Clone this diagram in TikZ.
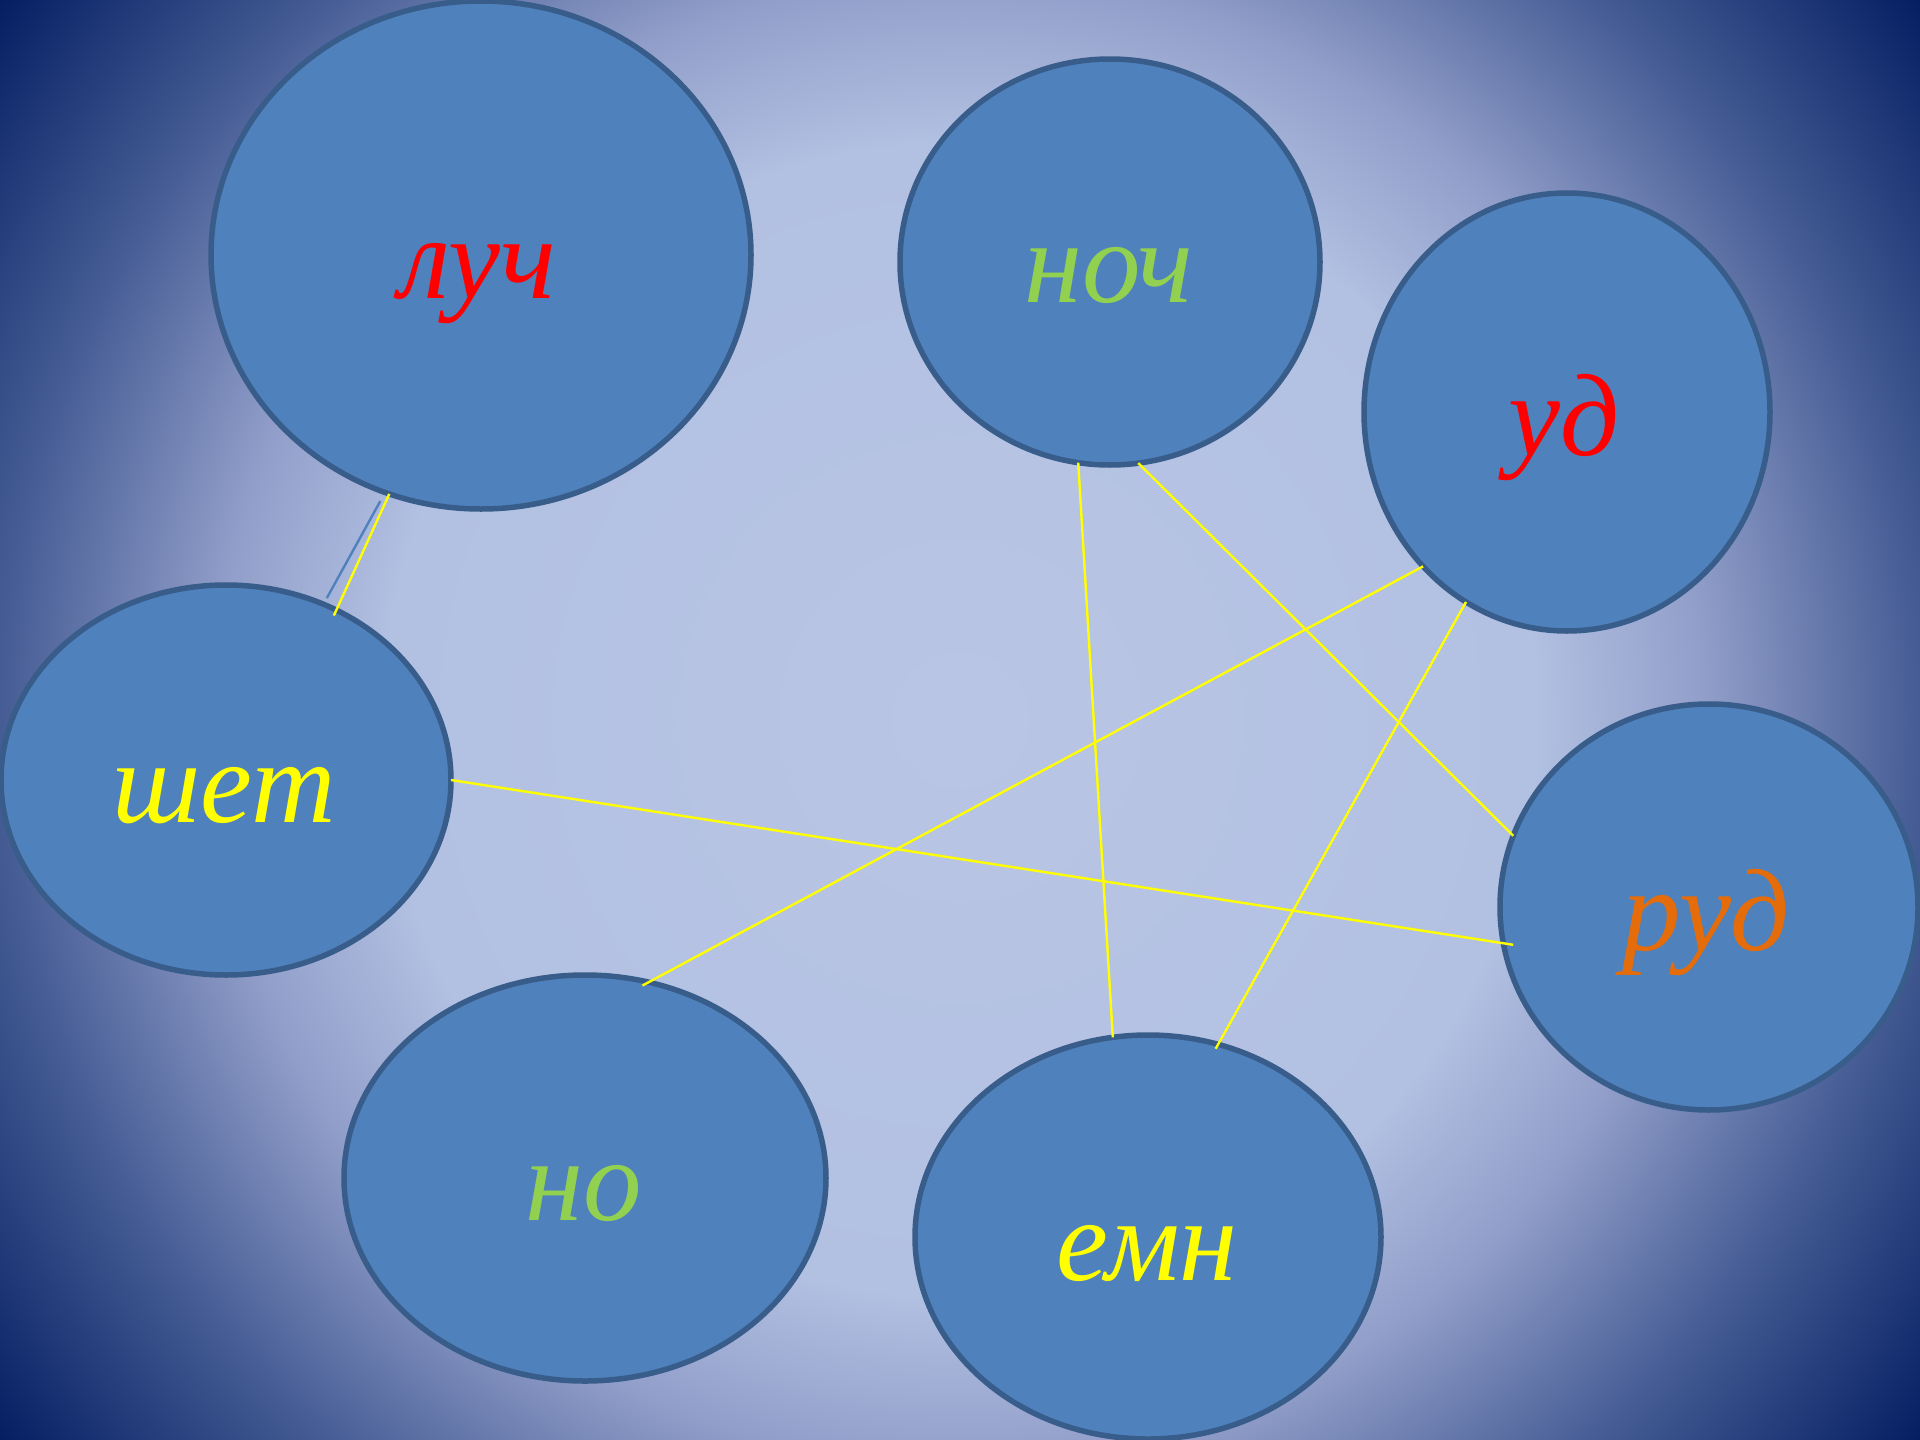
\documentclass[tikz,border=0pt]{standalone}
\usepackage{fontspec}
\setmainfont{Liberation Serif}
\usetikzlibrary{shapes.geometric}
\definecolor{bfill}{RGB}{79,129,189}
\definecolor{bstroke}{RGB}{56,93,138}
\definecolor{wred}{RGB}{255,0,0}
\definecolor{wgreen}{RGB}{146,208,80}
\definecolor{wyellow}{RGB}{255,255,0}
\definecolor{worange}{RGB}{228,108,10}
\pgfdeclareradialshading{bgshade}{\pgfpoint{0bp}{0bp}}{%
rgb(0bp)=(0.725,0.773,0.894);
rgb(12bp)=(0.698,0.753,0.886);
rgb(15.5bp)=(0.57,0.62,0.79);
rgb(20bp)=(0.27,0.36,0.58);
rgb(25bp)=(0.016,0.118,0.384);
rgb(50bp)=(0.016,0.118,0.384)}
\tikzset{
  bubble/.style={ellipse, draw=bstroke, line width=5.5pt, fill=bfill, inner sep=0pt, outer sep=0pt},
  word/.style={anchor=base, inner sep=0pt, font=\itshape\fontsize{117}{130}\selectfont},
  link/.style={draw=wyellow, line width=2.4pt},
  bluelink/.style={draw=bfill, line width=2.4pt}
}
\begin{document}
\begin{tikzpicture}[x=1pt,y=-1pt]
\useasboundingbox (0,0) rectangle (1920,1440);
\begin{scope}
\clip (0,0) rectangle (1920,1440);
\shade[shading=bgshade] (960,720) circle (1200pt);
\end{scope}
% ellipses
\node[bubble, minimum width=540pt, minimum height=508pt] (luch) at (481,255) {};
\node[bubble, minimum width=420pt, minimum height=406pt] (noch) at (1110,262) {};
\node[bubble, minimum width=406pt, minimum height=438pt] (ud) at (1567,412) {};
\node[bubble, minimum width=450pt, minimum height=390pt] (shet) at (226,780) {};
\node[bubble, minimum width=418pt, minimum height=406pt] (rud) at (1709,907) {};
\node[bubble, minimum width=482pt, minimum height=406pt] (no) at (585,1178) {};
\node[bubble, minimum width=466pt, minimum height=404pt] (emn) at (1148,1237) {};
% words
\node[word, text=wred] (tluch) at (478,298) {луч};
\node[word, text=wgreen] (tnoch) at (1109,302) {ноч};
\node[word, text=wred] (tud) at (1564,455) {уд};
\node[word, text=wyellow] (tshet) at (224,822) {шет};
\node[word, text=worange] (trud) at (1706,950) {руд};
\node[word, text=wgreen] (tno) at (584,1220) {но};
\node[word, text=wyellow] (temn) at (1147,1280) {емн};
% connectors
\draw[bluelink, shorten <=10pt, shorten >=7pt] (luch.248.4) -- (shet.61);
\draw[link, shorten >=-6pt] (luch.249) -- (shet.57.7);
\draw[link, shorten >=-10pt] (shet.east) -- (rud.190.5);
\draw[link] (noch.278.4) -- (rud.160.8);
\draw[link, shorten <=-7pt] (no.72.4) -- (ud.227.1);
\draw[link, shorten >=-5pt] (ud.242.6) -- (emn.70.1);
\draw[link] (noch.261.6) -- (emn.100.9);
\end{tikzpicture}
\end{document}
